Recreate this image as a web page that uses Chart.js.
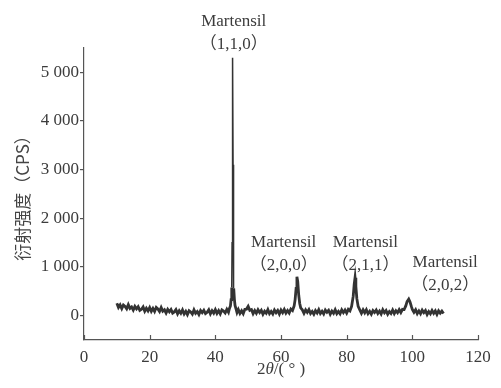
<!DOCTYPE html>
<html>
<head>
<meta charset="utf-8">
<script src="https://cdn.jsdelivr.net/npm/chart.js@4.4.0/dist/chart.umd.min.js"></script>
<style>
  body { margin: 0; background: #fff; }
</style>
</head>
<body>
<canvas id="xrd" width="501" height="388"></canvas>
<script>
// 2theta values (deg) and intensity (CPS)
var twoTheta = [
  10, 10.5, 11, 11.5, 12, 12.5, 13, 13.5, 14, 14.5, 15, 15.5, 16, 16.5, 17, 17.5, 18, 18.5, 19, 19.5,
  20, 20.5, 21, 21.5, 22, 22.5, 23, 23.5, 24, 24.5, 25, 25.5, 26, 26.5, 27, 27.5, 28, 28.5, 29, 29.5,
  30, 30.5, 31, 31.5, 32, 32.5, 33, 33.5, 34, 34.5, 35, 35.5, 36, 36.5, 37, 37.5, 38, 38.5, 39, 39.5,
  40, 40.5, 41, 41.5, 42, 42.5, 43, 43.5, 44, 44.3,
  44.6, 44.8, 45.0, 45.1, 45.2, 45.3, 45.4, 45.5, 45.6, 45.8, 46.0, 46.3,
  46.6, 47, 47.5, 48, 48.5, 49, 49.5, 50, 50.5, 51, 51.5, 52, 52.5, 53, 53.5, 54, 54.5, 55, 55.5,
  56, 56.5, 57, 57.5, 58, 58.5, 59, 59.5, 60, 60.5, 61, 61.5, 62, 62.5, 63, 63.5,
  64, 64.3, 64.6, 64.85, 65.1, 65.4, 65.7, 66,
  66.5, 67, 67.5, 68, 68.5, 69, 69.5, 70, 70.5, 71, 71.5, 72, 72.5, 73, 73.5, 74, 74.5, 75, 75.5,
  76, 76.5, 77, 77.5, 78, 78.5, 79, 79.5, 80, 80.5, 81, 81.5,
  82, 82.3, 82.55, 82.8, 83.1, 83.5,
  84, 84.5, 85, 85.5, 86, 86.5, 87, 87.5, 88, 88.5, 89, 89.5, 90, 90.5, 91, 91.5, 92, 92.5, 93, 93.5,
  94, 94.5, 95, 95.5, 96, 96.5, 97, 97.5,
  98, 98.4, 98.9, 99.3, 99.7, 100,
  100.5, 101, 101.5, 102, 102.5, 103, 103.5, 104, 104.5, 105, 105.5, 106, 106.5, 107, 107.5, 108, 108.5,
  109, 109.5
];
var intensity = [
  255, 170, 220, 145, 220, 190, 140, 225, 150, 180, 115, 190, 140, 185, 110, 132, 179, 91, 153, 100,
  167, 90, 150, 85, 168, 137, 85, 168, 92, 121, 55, 130, 80, 127, 54, 77, 125, 38, 101, 49,
  117, 36, 90, 20, 100, 75, 30, 120, 50, 85, 25, 105, 61, 112, 43, 69, 120, 36, 102, 53,
  125, 47, 104, 36, 118, 95, 55, 130, 70, 150,
  200, 330, 580, 1500, 3200, 5300, 3100, 1400, 560, 340, 210, 140,
  65, 127, 45, 100, 40, 130, 135, 190, 110, 125, 42, 105, 48, 121, 65, 110, 30, 90, 50,
  125, 40, 85, 35, 115, 61, 107, 33, 114, 60, 127, 54, 106, 55, 136, 105,
  200, 330, 560, 800, 700, 420, 250, 160,
  120, 50, 120, 67, 125, 43, 87, 31, 105, 55, 125, 45, 90, 35, 115, 70, 110, 30, 95,
  50, 121, 42, 88, 39, 120, 62, 115, 53, 130, 100, 190,
  400, 650, 780, 600, 350, 190,
  120, 50, 120, 60, 123, 41, 90, 30, 105, 65, 115, 45, 95, 35, 120, 60, 105, 30, 85, 45,
  116, 42, 103, 60, 124, 65, 130, 125,
  200, 290, 340, 280, 190, 130,
  70, 123, 42, 98, 41, 114, 62, 105, 25, 85, 40, 108, 48, 98, 26, 101, 51,
  95, 45
];

var xTicks = [0, 20, 40, 60, 80, 100, 120];
var yTicks = [0, 1000, 2000, 3000, 4000, 5000];
var yTickLabels = ["0", "1 000", "2 000", "3 000", "4 000", "5 000"];

// peak labels: [2theta, intensity] where the label's first line sits
var peakNames = ["Martensil", "Martensil", "Martensil", "Martensil"];
var peakHkl = ["（1,1,0）", "（2,0,0）", "（2,1,1）", "（2,0,2）"];
var peakLabelX = [45.6, 60.8, 85.7, 110];
var peakLabelY = [6050, 1510, 1510, 1100];

var serif = "'Liberation Serif', 'Noto Sans CJK SC', serif";
var ink = "#3c3c3c";

var points = twoTheta.map(function (t, i) {
  return { x: t, y: intensity[i] };
});

var paperBg = {
  id: "paperBg",
  beforeDraw: function (chart) {
    var c = chart.ctx;
    c.save();
    c.fillStyle = "#fff";
    c.fillRect(0, 0, chart.width, chart.height);
    c.restore();
  }
};

var extras = {
  id: "extras",
  afterDraw: function (chart) {
    var c = chart.ctx;
    var xs = chart.scales.x;
    var ys = chart.scales.y;
    c.save();
    // inward tick marks on the x axis
    c.strokeStyle = "#555";
    c.lineWidth = 1.2;
    xs.ticks.forEach(function (t) {
      var px = Math.round(xs.getPixelForValue(t.value)) + 0.5;
      c.beginPath();
      c.moveTo(px, xs.top);
      c.lineTo(px, xs.top - 5);
      c.stroke();
    });
    // peak labels
    c.fillStyle = ink;
    c.font = "17px " + serif;
    c.textAlign = "center";
    c.textBaseline = "middle";
    for (var i = 0; i < peakNames.length; i++) {
      var px = xs.getPixelForValue(peakLabelX[i]);
      var py = ys.getPixelForValue(peakLabelY[i]);
      c.fillText(peakNames[i], px, py);
      c.fillText(peakHkl[i], px, py + 23);
    }
    // x axis title: 2θ/( ° ) with italic theta
    var parts = [["2", ""], ["θ", "italic "], ["/( ° )", ""]];
    var w = 0;
    parts.forEach(function (p) {
      c.font = p[1] + "17px " + serif;
      w += c.measureText(p[0]).width;
    });
    var cx = (xs.left + xs.right) / 2 - w / 2;
    c.textAlign = "left";
    parts.forEach(function (p) {
      c.font = p[1] + "17px " + serif;
      c.fillText(p[0], cx, 370);
      cx += c.measureText(p[0]).width;
    });
    c.restore();
  }
};

new Chart(document.getElementById("xrd"), {
  type: "scatter",
  data: {
    datasets: [{
      data: points,
      showLine: true,
      borderColor: "#333",
      borderWidth: 2.8,
      pointRadius: 0,
      tension: 0,
      segment: {
        // thin stroke on the tall flanks, like the original trace
        borderWidth: function (ctx) {
          return Math.max(ctx.p0.parsed.y, ctx.p1.parsed.y) > 1000 ? 1.5 : undefined;
        }
      }
    }]
  },
  options: {
    responsive: false,
    animation: false,
    layout: { padding: { top: 48, right: 23, left: 0, bottom: 0 } },
    plugins: { legend: { display: false }, tooltip: { enabled: false } },
    scales: {
      x: {
        type: "linear",
        min: 0,
        max: 120,
        afterBuildTicks: function (s) {
          s.ticks = xTicks.map(function (v) { return { value: v }; });
        },
        afterFit: function (s) { s.height = 48; },
        grid: { drawOnChartArea: false, drawTicks: false },
        border: { color: "#555", width: 1.2 },
        ticks: { color: ink, font: { family: serif, size: 17 }, padding: 7, maxRotation: 0 }
      },
      y: {
        min: -500,
        max: 5500,
        afterBuildTicks: function (s) {
          s.ticks = yTicks.map(function (v) { return { value: v }; });
        },
        afterFit: function (s) { s.width = 84; },
        grid: { drawOnChartArea: false, tickLength: 4, color: "#555", lineWidth: 1.2 },
        border: { color: "#555", width: 1.2 },
        ticks: {
          color: ink,
          font: { family: serif, size: 17 },
          padding: 1,
          callback: function (v) {
            var k = yTicks.indexOf(v);
            return k >= 0 ? yTickLabels[k] : "";
          }
        },
        title: {
          display: true,
          text: "衍射强度（CPS）",
          color: "#444",
          font: { family: "'Noto Sans CJK SC', sans-serif", size: 17 },
          padding: { top: 12, bottom: 0 }
        }
      }
    }
  },
  plugins: [paperBg, extras]
});
</script>
</body>
</html>
